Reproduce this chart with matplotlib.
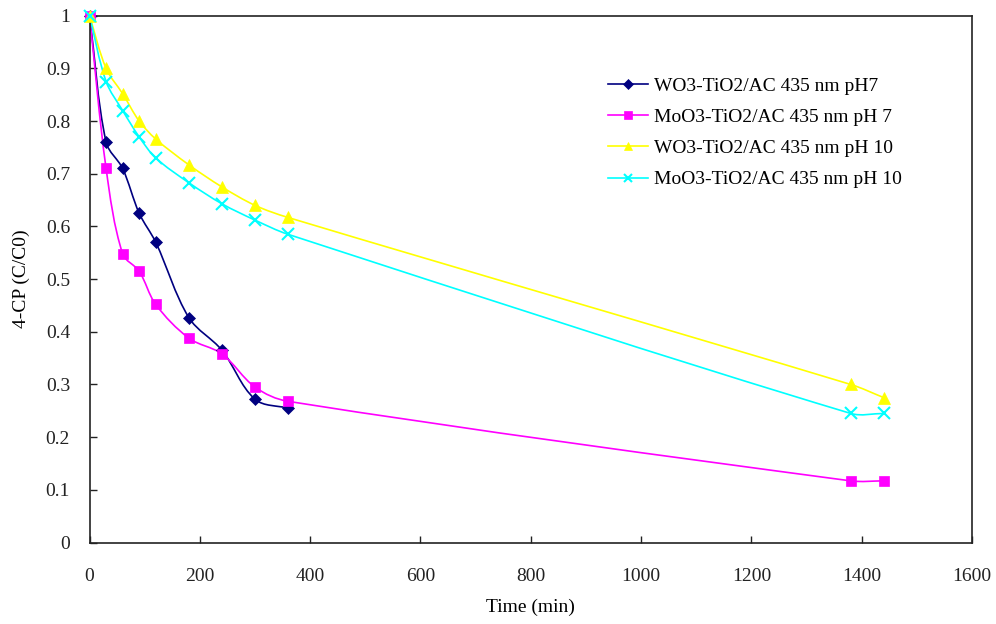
import numpy as np
import matplotlib
matplotlib.use("Agg")
import matplotlib.pyplot as plt
from matplotlib.path import Path
from matplotlib.patches import PathPatch
from matplotlib.lines import Line2D

plt.rcParams['font.family'] = ['Liberation Serif', 'DejaVu Serif']

time_short = [0, 30, 60, 90, 120, 180, 240, 300, 360]
time_long = [0, 30, 60, 90, 120, 180, 240, 300, 360, 1380, 1440]

wo3_ph7 = [1.0, 0.76, 0.71, 0.625, 0.57, 0.427, 0.365, 0.272, 0.255]
moo3_ph7 = [1.0, 0.71, 0.548, 0.515, 0.452, 0.388, 0.358, 0.295, 0.268, 0.117, 0.117]
wo3_ph10 = [1.0, 0.90, 0.852, 0.80, 0.766, 0.717, 0.675, 0.64, 0.617, 0.30, 0.275]
moo3_ph10 = [1.0, 0.875, 0.82, 0.77, 0.73, 0.683, 0.643, 0.612, 0.585, 0.245, 0.245]

labels = ["WO3-TiO2/AC 435 nm pH7", "MoO3-TiO2/AC 435 nm pH 7",
          "WO3-TiO2/AC 435 nm pH 10", "MoO3-TiO2/AC 435 nm pH 10"]
colors = ["#000080", "#FF00FF", "#FFFF00", "#00FFFF"]
markers = ["D", "s", "^", "x"]
msizes = [6, 6.5, 8, 8]

series = [(time_short, wo3_ph7), (time_long, moo3_ph7),
          (time_long, wo3_ph10), (time_long, moo3_ph10)]

FS = 14

fig = plt.figure(figsize=(9.96, 6.24), dpi=100)
ax = fig.add_axes([0.0899, 0.1306, 0.8861, 0.8442])
ax.set_xlim(0, 1600)
ax.set_ylim(0, 1)


def smooth_path(ax, x, y):
    # smooth curve through the points, tangents computed in display space
    pts = ax.transData.transform(np.column_stack([x, y]))
    n = len(pts)
    inv = ax.transData.inverted()
    verts = [pts[0]]
    codes = [Path.MOVETO]

    def tangent(i):
        a = pts[i - 1] if i > 0 else pts[i]
        b = pts[i + 1] if i < n - 1 else pts[i]
        d = b - a
        L = np.hypot(*d)
        return d / L if L > 0 else d

    for i in range(n - 1):
        p1, p2 = pts[i], pts[i + 1]
        seg = np.hypot(*(p2 - p1))
        c1 = p1 + tangent(i) * seg / 3.0
        c2 = p2 - tangent(i + 1) * seg / 3.0
        verts += [c1, c2, p2]
        codes += [Path.CURVE4] * 3
    verts = inv.transform(np.array(verts))
    return Path(verts, codes)


handles = []
for (x, y), c, m, ms, lab in zip(series, colors, markers, msizes, labels):
    patch = PathPatch(smooth_path(ax, x, y), facecolor='none', edgecolor=c, lw=1.2, zorder=2)
    ax.add_patch(patch)
    mew = 1.5 if m == 'x' else 0.5
    ax.plot(x, y, linestyle='none', marker=m, markersize=ms, color=c,
            markeredgecolor=c, markeredgewidth=mew, zorder=3, clip_on=False)
    handles.append(Line2D([0], [0], color=c, lw=1.2, marker=m, markersize=ms * 0.8,
                          markeredgewidth=mew, label=lab))

ax.set_xticks(np.arange(0, 1601, 200))
ax.set_yticks(np.round(np.arange(0, 1.01, 0.1), 1))
ax.set_yticklabels(["0", "0.1", "0.2", "0.3", "0.4", "0.5", "0.6", "0.7", "0.8", "0.9", "1"])
ax.tick_params(direction='in', length=5, width=1, labelsize=FS, colors='#222222')
ax.tick_params(axis='x', pad=18)
ax.tick_params(axis='y', pad=14)
for s in ax.spines.values():
    s.set_linewidth(1.2)
    s.set_color('#222222')

ax.set_xlabel("Time (min)", fontsize=FS, labelpad=10)
ax.set_ylabel("4-CP (C/C0)", fontsize=FS, labelpad=11)

fig.legend(handles=handles, loc='upper left', bbox_to_anchor=(0.6005, 0.892),
           frameon=False, fontsize=FS, handlelength=2.05, handletextpad=0.3,
           borderpad=0, labelspacing=0.7)

fig.savefig("out.png", dpi=100)
